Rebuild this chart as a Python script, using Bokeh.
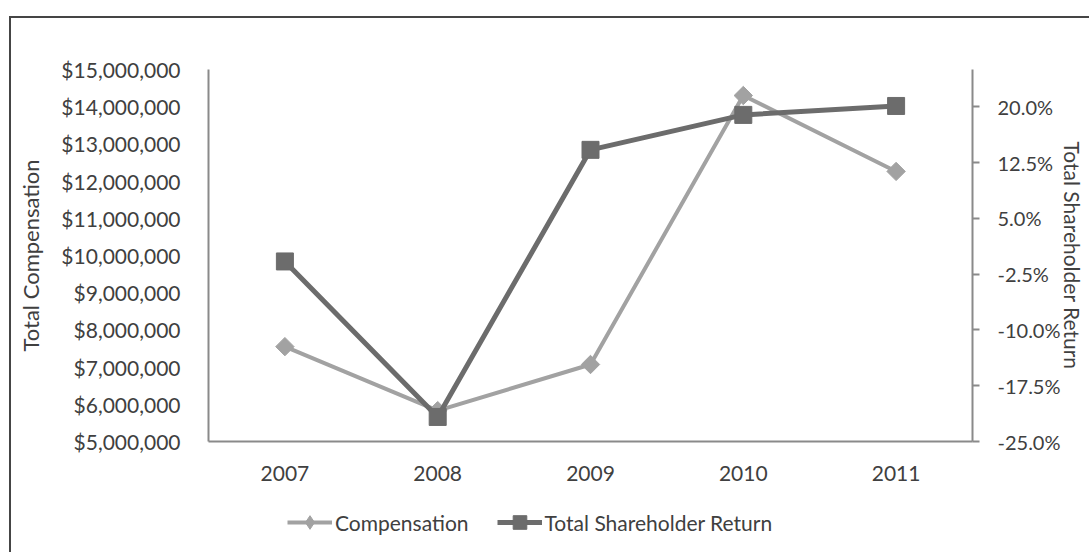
from bokeh.plotting import figure
from bokeh.layouts import column
from bokeh.models import (Range1d, LinearAxis, FixedTicker, NumeralTickFormatter,
                          PrintfTickFormatter, Legend, LegendItem, FactorRange)
from bokeh.embed import file_html
from bokeh.resources import INLINE
import math

years = ["2007", "2008", "2009", "2010", "2011"]
compensation = [7550000, 5830000, 7070000, 14300000, 12260000]
tsr = [-0.8, -21.7, 14.2, 18.9, 20.1]
left_ticks = [5000000, 6000000, 7000000, 8000000, 9000000, 10000000,
              11000000, 12000000, 13000000, 14000000, 15000000]
right_ticks = [-25.0, -17.5, -10.0, -2.5, 5.0, 12.5, 20.0]
series_names = ["Compensation", "Total Shareholder Return"]

FONT = "Lato"
FS = "21px"
FT = "22px"
TXT = "#404040"
AX = "#8a8a8a"
C_COMP = "#a2a2a2"
C_TSR = "#6c6c6c"

p = figure(width=1078, height=468, x_range=FactorRange(*years),
           y_range=Range1d(5000000, 15000000),
           output_backend="svg", toolbar_location=None,
           min_border_left=197, min_border_top=51, min_border_right=117,
           min_border_bottom=45)
p.extra_y_ranges = {"tsr": Range1d(-25, 25)}
p.outline_line_color = None
p.grid.visible = False
p.background_fill_color = "white"
p.border_fill_color = "white"

# left axis
ya = p.yaxis[0]
ya.ticker = FixedTicker(ticks=left_ticks)
ya.formatter = NumeralTickFormatter(format="$0,0")
ya.axis_label = "Total Compensation"
ya.major_tick_line_color = None
ya.minor_tick_line_color = None
ya.axis_line_color = AX
ya.axis_line_width = 2
ya.major_label_text_font = FONT
ya.major_label_text_font_size = FS
ya.major_label_text_color = TXT
ya.major_label_standoff = 22
ya.axis_label_text_font = FONT
ya.axis_label_text_font_size = FT
ya.axis_label_text_font_style = "normal"
ya.axis_label_text_color = TXT
ya.axis_label_standoff = 14

# bottom axis
xa = p.xaxis[0]
xa.major_tick_line_color = None
xa.minor_tick_line_color = None
xa.axis_line_color = AX
xa.axis_line_width = 2
xa.major_label_text_font = FONT
xa.major_label_text_font_size = FS
xa.major_label_text_color = TXT
xa.major_label_standoff = 18

# right axis
ra = LinearAxis(y_range_name="tsr", ticker=FixedTicker(ticks=right_ticks),
                formatter=PrintfTickFormatter(format="%.1f%%"),
                axis_label="Total Shareholder Return")
ra.major_tick_out = 7
ra.major_tick_in = 0
ra.major_tick_line_color = AX
ra.major_tick_line_width = 2
ra.minor_tick_line_color = None
ra.axis_line_color = AX
ra.axis_line_width = 2
ra.major_label_text_font = FONT
ra.major_label_text_font_size = "20px"
ra.major_label_text_color = TXT
ra.major_label_standoff = 18
ra.axis_label_text_font = FONT
ra.axis_label_text_font_size = "21px"
ra.axis_label_text_font_style = "normal"
ra.axis_label_text_color = TXT
ra.axis_label_standoff = -3
p.add_layout(ra, "right")

p.line(years, compensation, line_color=C_COMP, line_width=4)
p.scatter(years, compensation, marker="square", angle=math.pi / 4, size=13,
          fill_color=C_COMP, line_color=C_COMP)
p.line(years, tsr, y_range_name="tsr", line_color=C_TSR, line_width=5)
p.scatter(years, tsr, y_range_name="tsr", marker="square", size=17,
          fill_color=C_TSR, line_color=C_TSR)

# legend strip below the chart (series drawn out of its view, only the key shows)
p2 = figure(width=1078, height=66, x_range=FactorRange(*years),
            y_range=Range1d(1000, 1001),
            output_backend="svg", toolbar_location=None,
            x_axis_type=None, y_axis_type=None,
            min_border_left=0, min_border_right=0, min_border_top=0,
            min_border_bottom=0)
p2.outline_line_color = None
p2.grid.visible = False
g1 = p2.line(years, compensation, line_color=C_COMP, line_width=4)
s1 = p2.scatter(years, compensation, marker="diamond",
                fill_color=C_COMP, line_color=C_COMP)
g2 = p2.line(years, tsr, line_color=C_TSR, line_width=5)
s2 = p2.scatter(years, tsr, marker="square", fill_color=C_TSR, line_color=C_TSR)

legend = Legend(items=[LegendItem(label=series_names[0], renderers=[g1, s1]),
                       LegendItem(label=series_names[1], renderers=[g2, s2])],
                orientation="horizontal", location=(79, 13),
                glyph_width=45, glyph_height=34, label_standoff=3, spacing=28,
                label_text_font=FONT, label_text_font_size=FS,
                label_text_color=TXT, border_line_color=None,
                background_fill_alpha=0, padding=0, margin=0)
p2.add_layout(legend, "center")

layout = column(p, p2, spacing=0,
                styles={"border-left": "2px solid #454545",
                        "border-top": "2px solid #454545",
                        "margin-top": "16px", "margin-left": "9px"})

open("out.html", "w").write(file_html(layout, INLINE))
